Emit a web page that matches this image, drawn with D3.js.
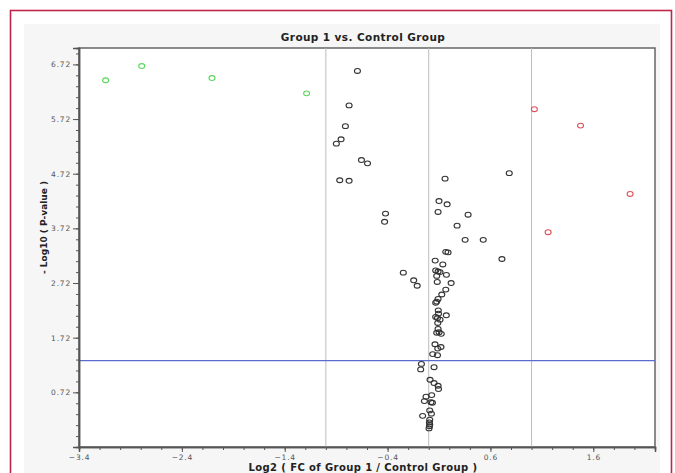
<!DOCTYPE html>
<html>
<head>
<meta charset="UTF-8">
<title>Volcano plot</title>
<style>
  html, body { margin: 0; padding: 0; background: #fff; }
  svg { display: block; }
  text { font-family: "DejaVu Sans", sans-serif; }
</style>
</head>
<body>
<svg width="675" height="473"></svg>
<script src="https://d3js.org/d3.v7.min.js"></script>
<script>
// tick labels
var xTicks = [-3.4, -2.4, -1.4, -0.4, 0.6, 1.6];
var yTicks = [0.72, 1.72, 2.72, 3.72, 4.72, 5.72, 6.72];

// down-regulated (green)
var downX = [-3.141, -2.790, -2.107, -1.187];
var downY = [6.43, 6.69, 6.47, 6.19];

// up-regulated (red)
var upX = [1.027, 1.476, 1.958, 1.161];
var upY = [5.90, 5.60, 4.35, 3.65];

// not significant (black)
var nsX = [-0.693, -0.774, -0.810, -0.852, -0.898, -0.654, -0.595, -0.865, -0.774, 0.159,
           0.783, -0.420, -0.429, 0.100, 0.179, 0.091, 0.383, 0.276, 0.354, 0.530,
           0.166, 0.188, 0.712, 0.063, 0.137, -0.247, 0.068, 0.091, 0.110, 0.078,
           0.172, -0.146, -0.112, 0.083, 0.218, 0.166, 0.127, 0.091, 0.078, 0.068,
           0.093, 0.095, 0.068, 0.085, 0.171, 0.110, 0.088, 0.091, 0.078, 0.101,
           0.122, 0.061, 0.119, 0.088, 0.039, 0.085, -0.071, -0.078, 0.052, 0.013,
           0.052, 0.091, 0.095, 0.029, -0.026, -0.042, 0.022, 0.036, 0.010, 0.026,
           -0.059, 0.010, 0.007, 0.010, 0.007, 0.003];
var nsY = [6.60, 5.97, 5.59, 5.35, 5.27, 4.97, 4.91, 4.60, 4.59, 4.63,
           4.73, 3.99, 3.84, 4.22, 4.16, 4.02, 3.97, 3.77, 3.51, 3.51,
           3.29, 3.28, 3.16, 3.13, 3.06, 2.91, 2.95, 2.93, 2.92, 2.85,
           2.87, 2.77, 2.67, 2.74, 2.72, 2.60, 2.51, 2.43, 2.38, 2.36,
           2.22, 2.16, 2.10, 2.08, 2.13, 2.05, 1.99, 1.88, 1.81, 1.82,
           1.79, 1.60, 1.55, 1.52, 1.42, 1.40, 1.24, 1.14, 1.18, 0.95,
           0.89, 0.84, 0.78, 0.67, 0.64, 0.56, 0.54, 0.53, 0.39, 0.33,
           0.29, 0.22, 0.17, 0.13, 0.10, 0.06];

var fcLines = [-1, 0, 1];
var pCut = 1.301;

var svg = d3.select("svg");

// frame + panel
svg.append("rect").attr("x", 24).attr("y", 24).attr("width", 636).attr("height", 460)
  .attr("fill", "#f6f6f6");
svg.append("rect").attr("x", 10.5).attr("y", 10.5).attr("width", 661).attr("height", 480)
  .attr("fill", "none").attr("stroke", "#c0264a").attr("stroke-width", 1.6);

var pLeft = 79, pRight = 655, pTop = 48, pBottom = 447;
var x = d3.scaleLinear().domain([-3.4, 2.2]).range([pLeft, pRight]);
var y = d3.scaleLinear().domain([-0.28, 7.02]).range([pBottom, pTop]);

svg.append("rect").attr("x", pLeft).attr("y", pTop).attr("width", pRight - pLeft).attr("height", pBottom - pTop)
  .attr("fill", "#fff").attr("stroke", "#666").attr("stroke-width", 1.5);

// reference lines
svg.selectAll(".vline").data(fcLines).enter().append("line")
  .attr("x1", function (d) { return x(d); }).attr("x2", function (d) { return x(d); })
  .attr("y1", pTop).attr("y2", pBottom)
  .attr("stroke", "#bdbdbd").attr("stroke-width", 1);
svg.append("line").attr("x1", pLeft).attr("x2", pRight).attr("y1", y(pCut)).attr("y2", y(pCut))
  .attr("stroke", "#5b6bd0").attr("stroke-width", 1.2);

// axes
var minorX = d3.range(-3.4, 2.21, 0.2);
var minorY = d3.range(-0.08, 7.0, 0.2);

var gx = svg.append("g").attr("transform", "translate(0," + pBottom + ")");
gx.call(d3.axisBottom(x).tickValues(minorX).tickSize(3).tickFormat(""));
var gx2 = svg.append("g").attr("transform", "translate(0," + pBottom + ")");
gx2.call(d3.axisBottom(x).tickValues(xTicks).tickSize(5).tickPadding(3).tickFormat(d3.format(".1f")));
var gy = svg.append("g").attr("transform", "translate(" + pLeft + ",0)");
gy.call(d3.axisLeft(y).tickValues(minorY).tickSize(3).tickFormat(""));
var gy2 = svg.append("g").attr("transform", "translate(" + pLeft + ",0)");
gy2.call(d3.axisLeft(y).tickValues(yTicks).tickSize(6).tickPadding(2).tickFormat(d3.format(".2f")));

svg.selectAll(".domain").attr("stroke", "#555").attr("stroke-width", 1.5);
svg.selectAll(".tick line").attr("stroke", "#555");
svg.selectAll(".tick text").attr("fill", "#555").attr("font-size", 7.5)
  .attr("font-family", "DejaVu Sans, sans-serif").attr("letter-spacing", 0.8);

// points
function drawPoints(xs, ys, color) {
  svg.append("g").selectAll("ellipse").data(xs).enter().append("ellipse")
    .attr("cx", function (d) { return x(d); })
    .attr("cy", function (d, i) { return y(ys[i]); })
    .attr("rx", 3).attr("ry", 2.4)
    .attr("fill", "none").attr("stroke", color).attr("stroke-width", 1.1);
}
drawPoints(nsX, nsY, "#333");
drawPoints(downX, downY, "#5cd65c");
drawPoints(upX, upY, "#e0505a");

// titles
svg.append("text").attr("x", 363).attr("y", 41).attr("text-anchor", "middle")
  .attr("font-size", 10.5).attr("font-weight", "bold").attr("fill", "#222")
  .attr("letter-spacing", 0.4).text("Group 1 vs. Control Group");
svg.append("text").attr("x", 363).attr("y", 471).attr("text-anchor", "middle")
  .attr("font-size", 10).attr("font-weight", "bold").attr("fill", "#222")
  .attr("letter-spacing", 0.4).text("Log2 ( FC of Group 1 / Control Group )");
svg.append("text").attr("transform", "translate(47," + ((pTop + pBottom) / 2 - 20) + ") rotate(-90)")
  .attr("text-anchor", "middle").attr("font-size", 9).attr("font-weight", "bold").attr("fill", "#222")
  .text("- Log10 ( P-value )");
</script>
</body>
</html>
